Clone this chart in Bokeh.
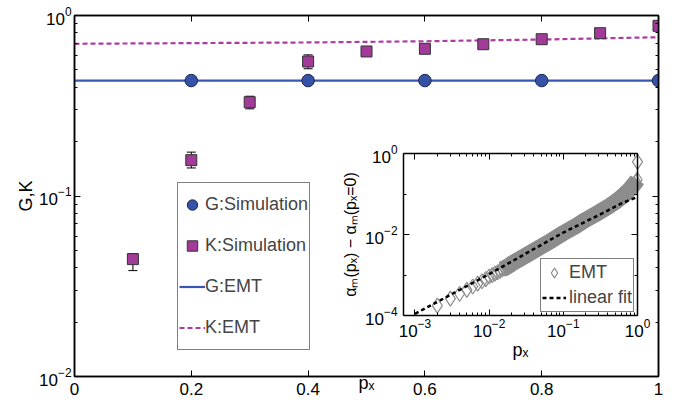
import math
from bokeh.plotting import figure
from bokeh.models import (ColumnDataSource, Whisker, TeeHead, FixedTicker, LogAxis, LinearAxis,
                          Legend, LegendItem, CustomJSTickFormatter, Range1d, LogScale)
from bokeh.embed import file_html
from bokeh.resources import INLINE

# ---------------- data (main panel) ----------------
g_sim_p = [0.2, 0.4, 0.6, 0.8, 1.0]
g_sim_v = [0.436, 0.436, 0.436, 0.436, 0.436]

k_sim_p = [0.1, 0.2, 0.3, 0.4, 0.5, 0.6, 0.7, 0.8, 0.9, 1.0]
k_sim_v = [0.0447, 0.158, 0.331, 0.556, 0.632, 0.654, 0.693, 0.739, 0.798, 0.877]

k_err_p = [0.1, 0.2, 0.3, 0.4]
k_err_lo = [0.0386, 0.143, 0.304, 0.507]
k_err_hi = [0.0479, 0.175, 0.357, 0.605]

g_emt_p = [0.0, 0.2, 0.4, 0.6, 0.8, 1.0]
g_emt_v = [0.436, 0.436, 0.436, 0.436, 0.436, 0.436]

k_emt_p = [0.0, 0.2, 0.4, 0.6, 0.8, 1.0]
k_emt_v = [0.697, 0.703, 0.709, 0.72, 0.736, 0.758]

x_ticks = [0.0, 0.2, 0.4, 0.6, 0.8, 1.0]
x_tick_labels = ["0", "0.2", "0.4", "0.6", "0.8", "1"]
y_ticks = [1e-2, 1e-1, 1.0]

# ---------------- data (inset) ----------------
emt_p = [0.002, 0.003, 0.004, 0.005, 0.006, 0.007, 0.008, 0.009, 0.010, 0.011, 0.012,
         0.013, 0.014, 0.015, 0.016, 0.017, 0.018, 0.019, 0.02, 0.03, 0.05, 0.07, 0.1,
         0.15, 0.2, 0.3, 0.4, 0.5, 0.6, 0.7, 0.8, 0.9, 0.95, 0.99, 1.0]
emt_v = [1.75e-4, 2.6e-4, 3.45e-4, 4.3e-4, 5.2e-4, 6.1e-4, 7.0e-4, 7.9e-4, 9.2e-4, 9.9e-4, 1.08e-3,
         1.17e-3, 1.27e-3, 1.38e-3, 1.46e-3, 1.55e-3, 1.65e-3, 1.75e-3, 1.9e-3, 2.9e-3, 5.0e-3, 7.2e-3, 1.08e-2,
         1.65e-2, 2.3e-2, 3.5e-2, 4.8e-2, 6.3e-2, 8.2e-2, 0.105, 0.135, 0.175, 0.2, 0.225, 0.62]

fit_p = [0.001, 0.01, 0.1, 0.3, 0.6, 1.0]
fit_v = [1.1e-4, 1.05e-3, 1.12e-2, 3.0e-2, 5.8e-2, 8.5e-2]

inset_x_ticks = [1e-3, 1e-2, 1e-1, 1.0]
inset_y_ticks = [1e-4, 1e-2, 1.0]
inset_x_lim = (7.0e-4, 1.0)
inset_y_lim = (1e-4, 1.0)

FONT = "Liberation Sans"
BLUE_FILL = "#3552a6"
BLUE_LINE = "#3857b3"
PURPLE_FILL = "#a23a9a"
PURPLE_LINE = "#ab3ca2"
GRAY = "#8c8c8c"
EMPTY = "return ''"

# ---------------- layout geometry (pixels) ----------------
W, H = 677, 407
ML, MR, MT, MB = 74, 19, 15, 31                    # main frame borders
FL, FR, FT, FB = ML, W - MR, MT, H - MB            # main frame edges
IL, IR, IT, IB = 403, 637, 153, 315                # inset frame edges


def style_axis(ax, size="17px"):
    ax.major_tick_in = 6
    ax.major_tick_out = 0
    ax.minor_tick_in = 3
    ax.minor_tick_out = 0
    ax.axis_line_color = "black"
    ax.axis_line_width = 1.5
    ax.major_tick_line_color = "black"
    ax.minor_tick_line_color = "black"
    ax.major_label_text_font = FONT
    ax.major_label_text_font_size = size
    ax.major_label_text_color = "black"
    ax.axis_label_text_font = FONT
    ax.axis_label_text_font_style = "normal"
    ax.axis_label_text_font_size = "18px"
    ax.axis_label_text_color = "black"


def blank(ax):
    ax.formatter = CustomJSTickFormatter(code=EMPTY)
    ax.major_label_text_font_size = "0px"
    ax.major_label_standoff = 0


def log_minor(lo_exp, hi_exp):
    return [k * 10.0 ** e for e in range(lo_exp, hi_exp) for k in range(2, 10)]


# ================= main figure =================
main = figure(width=W, height=H, x_range=Range1d(0, 1), y_range=Range1d(1e-2, 1),
              y_axis_type="log", output_backend="svg", toolbar_location=None,
              min_border_left=ML, min_border_right=MR, min_border_top=MT, min_border_bottom=MB)
main.grid.visible = False
main.outline_line_color = "black"
main.outline_line_width = 1.5
main.background_fill_color = "white"
main.border_fill_color = "white"

xt = FixedTicker(ticks=x_ticks, minor_ticks=[])
yt = FixedTicker(ticks=y_ticks, minor_ticks=log_minor(-2, 0))

bx = main.xaxis[0]
by = main.yaxis[0]
bx.ticker = xt
bx.major_label_overrides = {t: s for t, s in zip(x_ticks, x_tick_labels)}
by.ticker = yt
style_axis(bx)
style_axis(by)
bx.major_label_standoff = 6
bx.axis_label = "pₓ"
bx.axis_label_standoff = -25
by.major_label_standoff = 3
by.axis_label = "G,K"
by.axis_label_standoff = 0

top_ax = LinearAxis(ticker=xt)
right_ax = LogAxis(ticker=yt)
for ax in (top_ax, right_ax):
    style_axis(ax)
    blank(ax)
main.add_layout(top_ax, "above")
main.add_layout(right_ax, "right")

r_gemt = main.line(g_emt_p, g_emt_v, line_color=BLUE_LINE, line_width=2.2)
r_kemt = main.line(k_emt_p, k_emt_v, line_color=PURPLE_LINE, line_width=2.2, line_dash="5 3")

err_src = ColumnDataSource(dict(p=k_err_p, lo=k_err_lo, hi=k_err_hi))
main.add_layout(Whisker(source=err_src, base="p", lower="lo", upper="hi", dimension="height",
                        line_color="black", line_width=1,
                        upper_head=TeeHead(size=9, line_color="black", line_width=1),
                        lower_head=TeeHead(size=9, line_color="black", line_width=1)))

r_gsim = main.scatter(g_sim_p, g_sim_v, marker="circle", size=12.5, fill_color=BLUE_FILL,
                      line_color="#1c2750", line_width=1)
r_ksim = main.scatter(k_sim_p, k_sim_v, marker="square", size=11, fill_color=PURPLE_FILL,
                      line_color="#333333", line_width=1)

leg = Legend(items=[LegendItem(label="G:Simulation", renderers=[r_gsim]),
                    LegendItem(label="K:Simulation", renderers=[r_ksim]),
                    LegendItem(label="G:EMT", renderers=[r_gemt]),
                    LegendItem(label="K:EMT", renderers=[r_kemt])],
             location=(103, 26), margin=0, padding=1, spacing=0,
             glyph_width=26, glyph_height=41, label_height=41, label_standoff=0,
             label_text_font=FONT, label_text_font_size="18px",
             border_line_color="black", border_line_width=1.5,
             background_fill_color="white", background_fill_alpha=1)
main.add_layout(leg)

# ================= inset (extra log scales mapped onto the inset box) =================
lx0, lx1 = math.log10(inset_x_lim[0]), math.log10(inset_x_lim[1])
ly0, ly1 = math.log10(inset_y_lim[0]), math.log10(inset_y_lim[1])
dpx = (IR - IL) / (lx1 - lx0)
dpy = (IB - IT) / (ly1 - ly0)
main.extra_x_ranges = {"ix": Range1d(10 ** (lx0 - (IL - FL) / dpx), 10 ** (lx1 + (FR - IR) / dpx))}
main.extra_y_ranges = {"iy": Range1d(10 ** (ly0 - (FB - IB) / dpy), 10 ** (ly1 + (IT - FT) / dpy))}
main.extra_x_scales = {"ix": LogScale()}
main.extra_y_scales = {"iy": LogScale()}

ixt = FixedTicker(ticks=inset_x_ticks, minor_ticks=log_minor(-3, 0))
iyt = FixedTicker(ticks=inset_y_ticks, minor_ticks=[1e-3, 1e-1])

ib = LogAxis(x_range_name="ix", y_range_name="iy", ticker=ixt, fixed_location=inset_y_lim[0],
             bounds=inset_x_lim)
it = LogAxis(x_range_name="ix", y_range_name="iy", ticker=ixt, fixed_location=inset_y_lim[1],
             bounds=inset_x_lim)
il = LogAxis(x_range_name="ix", y_range_name="iy", ticker=iyt, fixed_location=inset_x_lim[0],
             bounds=inset_y_lim)
ir = LogAxis(x_range_name="ix", y_range_name="iy", ticker=iyt, fixed_location=inset_x_lim[1],
             bounds=inset_y_lim)
for ax in (ib, it, il, ir):
    style_axis(ax)
blank(it)
blank(ir)
ib.major_label_standoff = 3
ib.axis_label = "pₓ"
ib.axis_label_standoff = 0
il.major_label_standoff = 6
il.axis_label = "αₘ(pₓ) − αₘ(pₓ=0)"
il.axis_label_standoff = 3
il.axis_label_text_font_size = "16px"
main.add_layout(ib, "below")
main.add_layout(it, "above")
main.add_layout(il, "left")
main.add_layout(ir, "right")

main.line(emt_p[13:-1], emt_v[13:-1], x_range_name="ix", y_range_name="iy",
          line_color=GRAY, line_width=16)
r_emt = main.scatter(emt_p, emt_v, x_range_name="ix", y_range_name="iy", marker="diamond",
                     size=15, fill_color=None, line_color=GRAY, line_width=1.2)
r_fit = main.line(fit_p, fit_v, x_range_name="ix", y_range_name="iy", line_color="black",
                  line_width=2.5, line_dash="4 3")

ileg = Legend(items=[LegendItem(label="EMT", renderers=[r_emt]),
                     LegendItem(label="linear fit", renderers=[r_fit])],
              location=(466, 64), margin=0, padding=1, spacing=0,
              glyph_width=24, glyph_height=25, label_height=25, label_standoff=3,
              label_text_font=FONT, label_text_font_size="18px",
              border_line_color="black", border_line_width=1.5,
              background_fill_color="white", background_fill_alpha=1)
main.add_layout(ileg)

open("out.html", "w").write(file_html(main, INLINE))
